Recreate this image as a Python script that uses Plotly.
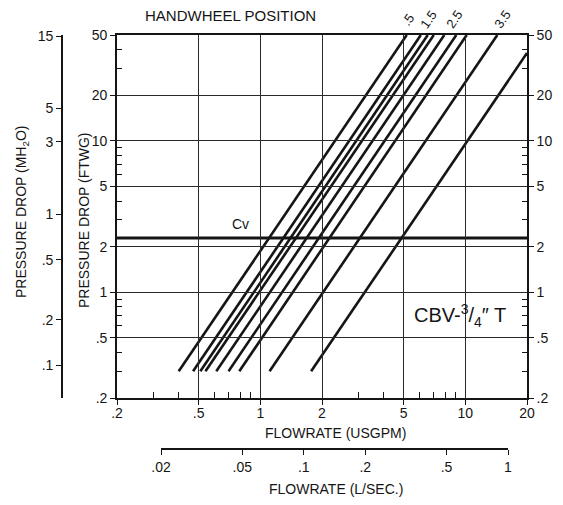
import math
import plotly.graph_objects as go

# ---------------- data ----------------
FT_PER_M = 3.281          # ft of water per metre of water
LS_PER_GPM = 0.06309      # L/s per US gpm

gpm_ticks = [0.2, 0.5, 1, 2, 5, 10, 20]
gpm_labels = [".2", ".5", "1", "2", "5", "10", "20"]
gpm_minor = [0.3, 0.4, 0.6, 0.7, 0.8, 0.9, 3, 4, 6, 7, 8, 9]

ft_ticks = [0.2, 0.5, 1, 2, 5, 10, 20, 50]
ft_labels = [".2", ".5", "1", "2", "5", "10", "20", "50"]
ft_minor = [0.3, 0.4, 0.6, 0.7, 0.8, 0.9, 3, 4, 6, 7, 8, 9, 30, 40]

m_ticks = [0.1, 0.2, 0.5, 1, 3, 5, 15]
m_labels = [".1", ".2", ".5", "1", "3", "5", "15"]

ls_ticks = [0.02, 0.05, 0.1, 0.2, 0.5, 1]
ls_labels = [".02", ".05", ".1", ".2", ".5", "1"]

# handwheel position curves (flow in USGPM, pressure drop in FTWG)
line_flow_low = [0.40, 0.47, 0.51, 0.54, 0.61, 0.70, 0.79, 1.11, 1.77]
line_dp_low = [0.3, 0.3, 0.3, 0.3, 0.3, 0.3, 0.3, 0.3, 0.3]
line_flow_high = [5.18, 6.07, 6.56, 7.02, 7.90, 9.04, 10.16, 14.33, 20.0]
line_dp_high = [50, 50, 50, 50, 50, 50, 50, 50, 38]

cv_dp = 2.28  # Cv reference line (about 1 psi of water)

handwheel_labels = [".5", "1.5", "2.5", "3.5"]
handwheel_label_flow = [5.25, 6.6, 8.8, 15.1]

# ---------------- figure ----------------
PAGE_OFF = 8                      # default page body margin
W, H = 563 - PAGE_OFF, 505 - PAGE_OFF
L, R, T, B = 117, 527, 35, 398    # plot frame in window pixels
FONT = "Liberation Sans, Arial, Helvetica, sans-serif"
INK = "#151515"

def px(x):
    return (x - PAGE_OFF) / W

def py(y):
    return 1 - (y - PAGE_OFF) / H

fig = go.Figure()

for xl, yl, xh, yh in zip(line_flow_low, line_dp_low, line_flow_high, line_dp_high):
    fig.add_trace(go.Scatter(x=[xl, xh], y=[yl, yh], mode="lines",
                             line=dict(color=INK, width=2.6),
                             hoverinfo="skip", showlegend=False))

fig.add_trace(go.Scatter(x=[gpm_ticks[0], gpm_ticks[-1]], y=[cv_dp, cv_dp], mode="lines",
                         line=dict(color=INK, width=3.2), hoverinfo="skip", showlegend=False))

# invisible traces to activate secondary axes
fig.add_trace(go.Scatter(x=[1], y=[1], xaxis="x", yaxis="y2", mode="markers",
                         marker=dict(opacity=0), hoverinfo="skip", showlegend=False))
fig.add_trace(go.Scatter(x=[0.1], y=[1], xaxis="x2", yaxis="y", mode="markers",
                         marker=dict(opacity=0), hoverinfo="skip", showlegend=False))
fig.add_trace(go.Scatter(x=[1], y=[1], xaxis="x", yaxis="y3", mode="markers",
                         marker=dict(opacity=0), hoverinfo="skip", showlegend=False))

xdom = [px(L), px(R)]
ydom = [py(B), py(T)]
tickfont = dict(family=FONT, size=14, color=INK)

fig.update_layout(
    width=W, height=H,
    margin=dict(l=0, r=0, t=0, b=0, pad=0, autoexpand=False),
    paper_bgcolor="white", plot_bgcolor="rgba(0,0,0,0)",
    showlegend=False,
    xaxis=dict(type="log", domain=xdom, anchor="y", automargin=False,
               range=[math.log10(0.2), math.log10(20)],
               tickmode="array", tickvals=gpm_ticks, ticktext=gpm_labels,
               ticks="outside", ticklen=5, tickwidth=1.3, tickcolor=INK,
               ticklabelstandoff=-4,
               showline=True, linecolor=INK, linewidth=1.6, mirror=True,
               showgrid=True, gridcolor="#2a2a2a", gridwidth=1.2,
               zeroline=False, tickfont=tickfont,
               minor=dict(tickmode="array", tickvals=gpm_minor, ticks="inside",
                          ticklen=6, tickwidth=1.2, tickcolor=INK, showgrid=False)),
    yaxis=dict(type="log", domain=ydom, anchor="x", automargin=False,
               range=[math.log10(0.2), math.log10(50)],
               tickmode="array", tickvals=ft_ticks, ticktext=ft_labels,
               ticks="outside", ticklen=5, tickwidth=1.3, tickcolor=INK,
               showline=True, linecolor=INK, linewidth=1.6,
               showgrid=True, gridcolor="#2a2a2a", gridwidth=1.2,
               zeroline=False, tickfont=tickfont,
               minor=dict(tickmode="array", tickvals=ft_minor, ticks="inside",
                          ticklen=5, tickwidth=1.2, tickcolor=INK, showgrid=False)),
    yaxis3=dict(type="log", overlaying="y", side="right", anchor="x", automargin=False,
                range=[math.log10(0.2), math.log10(50)],
                tickmode="array", tickvals=ft_ticks, ticktext=ft_labels,
                ticks="outside", ticklen=5, tickwidth=1.3, tickcolor=INK,
                showline=True, linecolor=INK, linewidth=1.6,
                showgrid=False, zeroline=False, tickfont=tickfont,
                minor=dict(tickmode="array", tickvals=ft_minor, ticks="inside",
                           ticklen=5, tickwidth=1.2, tickcolor=INK, showgrid=False)),
    yaxis2=dict(type="log", domain=ydom, anchor="free", position=px(62), side="left",
                automargin=False,
                range=[math.log10(0.2 / FT_PER_M), math.log10(50 / FT_PER_M)],
                tickmode="array", tickvals=m_ticks, ticktext=m_labels,
                ticks="outside", ticklen=5, tickwidth=1.3, tickcolor=INK,
                showline=True, linecolor=INK, linewidth=1.6,
                showgrid=False, zeroline=False, tickfont=tickfont),
    xaxis2=dict(type="log", domain=[px(161), px(508)], anchor="free", position=py(449),
                side="bottom", automargin=False,
                range=[math.log10(0.02), math.log10(1)],
                tickmode="array", tickvals=ls_ticks, ticktext=ls_labels,
                ticks="outside", ticklen=5, tickwidth=1.3, tickcolor=INK,
                showline=True, linecolor=INK, linewidth=1.6,
                showgrid=False, zeroline=False, tickfont=tickfont),
)

ann_font = dict(family=FONT, size=14, color=INK)
def ann(text, x, y, xref="paper", yref="paper", angle=0, font=ann_font):
    return dict(text=text, x=x, y=y, xref=xref, yref=yref, textangle=angle,
                xanchor="center", yanchor="middle", showarrow=False, font=font)

annotations = [
    ann("HANDWHEEL POSITION", px(230), py(16), font=dict(family=FONT, size=15, color=INK)),
    ann("PRESSURE DROP (MH<sub>2</sub>O)", px(22), py(212), angle=-90),
    ann("PRESSURE DROP (FTWG)", px(84), py(220), angle=-90),
    ann("FLOWRATE (USGPM)", px(335), py(433)),
    ann("FLOWRATE (L/SEC.)", px(336), py(489)),
    ann("Cv", math.log10(0.80), math.log10(2.82), xref="x", yref="y"),
    ann("CBV-<sup>3</sup>/<sub>4</sub>\u2033 T", math.log10(9.4), math.log10(0.70),
        xref="x", yref="y", font=dict(family=FONT, size=20, color=INK)),
]
for lab, fx in zip(handwheel_labels, handwheel_label_flow):
    annotations.append(ann(lab, math.log10(fx), py(19), xref="x", angle=-55,
                           font=dict(family=FONT, size=13, color=INK)))
fig.update_layout(annotations=annotations)

fig.write_html("out.html")
